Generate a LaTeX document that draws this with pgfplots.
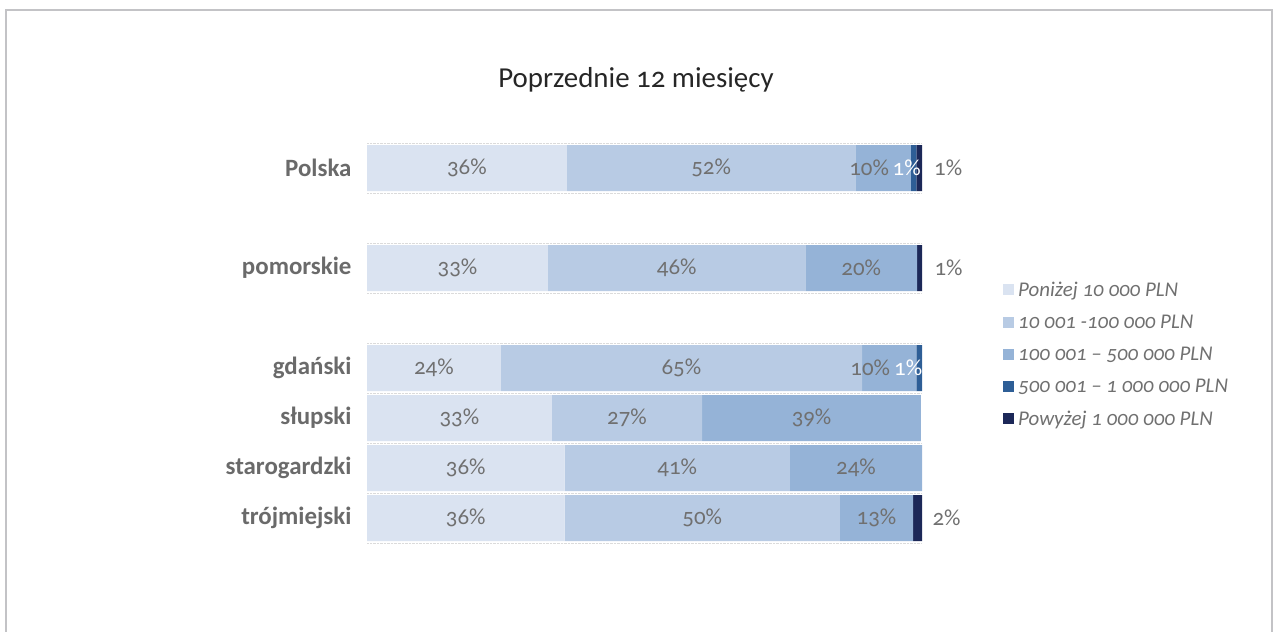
\documentclass[border=0pt]{standalone}
\usepackage{pgfplots}
\pgfplotsset{compat=1.18}
\usepackage{pgfplotstable}
\usepackage{fontspec}
\setmainfont{Carlito}[Numbers=OldStyle]
\definecolor{c1}{HTML}{DAE3F1}
\definecolor{c2}{HTML}{B8CBE4}
\definecolor{c3}{HTML}{95B3D7}
\definecolor{c4}{HTML}{2E5E96}
\definecolor{c5}{HTML}{1C2858}
\definecolor{txt}{HTML}{707070}
\definecolor{cat}{HTML}{6A6A6A}
\definecolor{frame}{HTML}{C3C3C6}
% \sl{kern}{text}: a negative kern of 2s moves a centred label left by s
\protected\def\sl#1#2{\hspace*{#1bp}#2}
\pgfplotstableread{
pos a b c d e la lb lc ld le
0 36 52 10 1 1 36 52 \sl{-28}{10} \sl{-14}{1} 1
2 32.6 46.4 20.1 0 0.9 33 46 20 - 1
4 24.1 65.1 9.8 1.0 0 24 65 \sl{-38}{10} \sl{-22}{1} -
5 33.3 27.1 39.4 0 0 33 27 39 - -
6 35.6 40.6 23.8 0 0 36 41 24 - -
7 35.6 49.6 13.2 0 1.6 36 50 13 - 2
}\data
\def\nolbl{-}
\newcommand\lbl{\ifx\pgfplotspointmeta\nolbl\else\pgfplotspointmeta\%\fi}
\begin{document}
\begin{tikzpicture}
\useasboundingbox (0,0) rectangle (1273bp,632bp);
\draw[frame, line width=2.5bp] (6bp,-20bp) rectangle (1272bp,622bp);
\node[font=\fontsize{29}{34}\selectfont, text=black!85] at (636bp,552bp) {Poprzednie 12 miesięcy};
\begin{axis}[
  at={(367bp,89bp)}, anchor=south west,
  scale only axis, width=555bp, height=400bp,
  xbar stacked, bar width=0.92,
  xmin=0, xmax=100, ymin=-0.5, ymax=7.5, y dir=reverse,
  axis line style={draw=none},
  xtick=\empty,
  ytick={0,...,7},
  yticklabels={Polska,{},pomorskie,{},gdański,słupski,starogardzki,trójmiejski},
  yticklabel style={font=\fontsize{25}{30}\selectfont\bfseries, text=cat, xshift=-12bp},
  minor ytick={-0.5,0.5,...,7.5},
  yminorgrids,
  minor grid style={densely dotted, black!14, line width=0.8bp},
  major tick length=0pt, minor tick length=0pt,
  point meta=explicit symbolic,
  nodes near coords={\lbl},
  every node near coord/.append style={font=\fontsize{23}{27}\selectfont, text=txt},
  legend style={at={(1.146,0.657)}, anchor=north west, draw=none, fill=none,
    font=\fontsize{21}{25}\selectfont\itshape, text=txt, row sep=13bp,
    inner sep=0pt, nodes={inner xsep=4bp}},
  legend cell align=left,
  area legend,
  legend image code/.code={\fill[#1] (0bp,-5bp) rectangle (11bp,6bp);},
]
\addplot[fill=c1, draw=none] table[x=a, y=pos, meta=la] {\data};
\addplot[fill=c2, draw=none] table[x=b, y=pos, meta=lb] {\data};
\addplot[fill=c3, draw=none] table[x=c, y=pos, meta=lc] {\data};
\addplot[fill=c4, draw=none, every node near coord/.append style={text=white}] table[x=d, y=pos, meta=ld] {\data};
\addplot[fill=c5, draw=none, every node near coord/.append style={xshift=29bp}] table[x=e, y=pos, meta=le] {\data};
\legend{Poniżej 10 000 PLN, 10 001 -100 000 PLN, 100 001 – 500 000 PLN, 500 001 – 1 000 000 PLN, Powyżej 1 000 000 PLN}
\end{axis}
\end{tikzpicture}
\end{document}
